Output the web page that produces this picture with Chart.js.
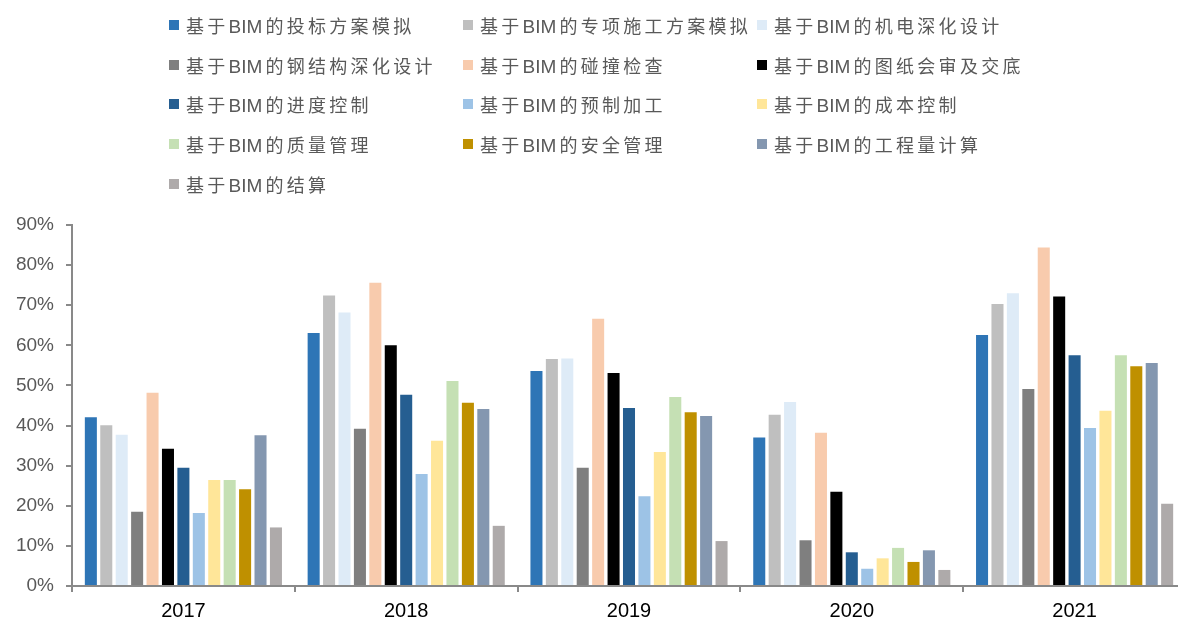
<!DOCTYPE html>
<html>
<head>
<meta charset="utf-8">
<script src="https://cdn.jsdelivr.net/npm/chart.js@4/dist/chart.umd.min.js"></script>
<style>
    html, body {
        margin: 0;
        padding: 0;
        background: #fff;
        overflow: hidden;
        width: 1178px;
        height: 621px;
    }

    #wrap {
        position: relative;
        width: 1178px;
        height: 621px;
    }

    #bimChart {
        position: absolute;
        left: 0;
        top: 0;
    }

    .legend-item {
        position: absolute;
        display: flex;
        align-items: center;
        height: 24px;
        font-family: Arial, "Liberation Sans", "Noto Sans CJK SC", sans-serif;
        font-size: 18px;
        letter-spacing: 3.3px;
        color: #595959;
        white-space: nowrap;
    }

    .legend-item .latin {
        font-size: 19px;
        letter-spacing: 0;
        margin-right: 3px;
    }

    .legend-box {
        width: 10px;
        height: 10px;
        margin-right: 7px;
        flex: none;
    }
</style>
</head>
<body>
<div id="wrap">
    <canvas id="bimChart" width="1190" height="621"></canvas>
    <div id="legend"></div>
</div>

<script>
const years = ["2017", "2018", "2019", "2020", "2021"];

const seriesNames = [
    "基于BIM的投标方案模拟",
    "基于BIM的专项施工方案模拟",
    "基于BIM的机电深化设计",
    "基于BIM的钢结构深化设计",
    "基于BIM的碰撞检查",
    "基于BIM的图纸会审及交底",
    "基于BIM的进度控制",
    "基于BIM的预制加工",
    "基于BIM的成本控制",
    "基于BIM的质量管理",
    "基于BIM的安全管理",
    "基于BIM的工程量计算",
    "基于BIM的结算"
];

const seriesColors = [
    "#2E75B6",
    "#BFBFBF",
    "#DEEBF7",
    "#7F7F7F",
    "#F8CBAD",
    "#000000",
    "#255E91",
    "#9DC3E6",
    "#FFE699",
    "#C5E0B4",
    "#BF9000",
    "#8497B0",
    "#AEAAAA"
];

// percentages per year, 2017 - 2021
const toubiao = [42.1, 63.1, 53.6, 37.0, 62.6];
const zhuanxiang = [40.1, 72.4, 56.6, 42.7, 70.3];
const jidian = [37.7, 68.2, 56.7, 45.9, 73.0];
const gangjiegou = [18.5, 39.2, 29.5, 11.4, 49.1];
const pengzhuang = [48.2, 75.6, 66.6, 38.2, 84.4];
const tuzhi = [34.2, 60.0, 53.1, 23.5, 72.2];
const jindu = [29.5, 47.7, 44.4, 8.4, 57.5];
const yuzhi = [18.2, 27.9, 22.4, 4.3, 39.4];
const chengben = [26.4, 36.2, 33.4, 6.9, 43.7];
const zhiliang = [26.4, 51.1, 47.1, 9.5, 57.5];
const anquan = [24.1, 45.7, 43.3, 6.0, 54.8];
const gongchengliang = [37.6, 44.1, 42.4, 8.9, 55.6];
const jiesuan = [14.6, 15.0, 11.2, 4.0, 20.5];

const seriesValues = [
    toubiao, zhuanxiang, jidian, gangjiegou, pengzhuang, tuzhi, jindu,
    yuzhi, chengben, zhiliang, anquan, gongchengliang, jiesuan
];

const yTicks = [0, 10, 20, 30, 40, 50, 60, 70, 80, 90];

const axisGray = "#898989";

const datasets = seriesNames.map((name, i) => ({
    label: name,
    data: seriesValues[i],
    backgroundColor: seriesColors[i],
    borderWidth: 0,
    categoryPercentage: 0.9,
    barPercentage: 0.78
}));

const bimChart = new Chart(document.getElementById("bimChart"), {
    type: "bar",
    data: {
        labels: years,
        datasets: datasets
    },
    options: {
        responsive: false,
        animation: false,
        layout: {
            padding: { top: 225, right: 4, left: 0, bottom: 0 }
        },
        plugins: {
            legend: { display: false },
            tooltip: { enabled: false }
        },
        scales: {
            x: {
                offset: true,
                afterFit: (scale) => { scale.height = 35; },
                border: { color: axisGray, width: 2 },
                grid: {
                    offset: true,
                    drawOnChartArea: false,
                    drawTicks: true,
                    tickLength: 6,
                    color: axisGray,
                    lineWidth: 2
                },
                ticks: {
                    color: "#000",
                    padding: 7,
                    font: { family: "Arial, 'Liberation Sans'", size: 20 }
                }
            },
            y: {
                min: yTicks[0],
                max: yTicks[yTicks.length - 1],
                afterFit: (scale) => { scale.width = 72; },
                afterBuildTicks: (scale) => {
                    scale.ticks = yTicks.map(v => ({ value: v }));
                },
                border: { color: axisGray, width: 2 },
                grid: {
                    drawOnChartArea: false,
                    tickLength: 6,
                    color: axisGray,
                    lineWidth: 2
                },
                ticks: {
                    color: "#595959",
                    padding: 12,
                    font: { family: "Arial, 'Liberation Sans'", size: 19 },
                    callback: (v) => v + "%"
                }
            }
        }
    }
});

// legend laid out in three fixed columns
const legendEl = document.getElementById("legend");
const colX = [169, 463, 757];
const rowY = [13, 53, 92, 132, 172];

bimChart.data.datasets.forEach((ds, i) => {
    const item = document.createElement("div");
    item.className = "legend-item";
    item.style.left = colX[i % 3] + "px";
    item.style.top = rowY[Math.floor(i / 3)] + "px";

    const box = document.createElement("span");
    box.className = "legend-box";
    box.style.background = ds.backgroundColor;
    item.appendChild(box);

    // latin runs (BIM) stay tight, the CJK text is spaced out
    const text = document.createElement("span");
    ds.label.split(/([A-Za-z]+)/).forEach((part) => {
        if (!part) return;
        const piece = document.createElement("span");
        if (/^[A-Za-z]+$/.test(part)) piece.className = "latin";
        piece.textContent = part;
        text.appendChild(piece);
    });
    item.appendChild(text);

    legendEl.appendChild(item);
});
</script>
</body>
</html>
